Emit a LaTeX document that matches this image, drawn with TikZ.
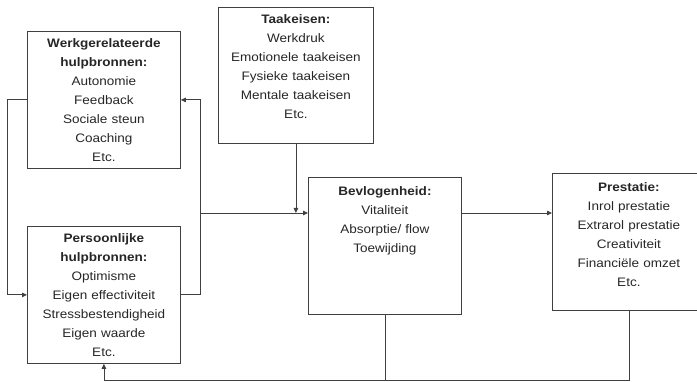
\documentclass[tikz,border=0pt]{standalone}
\usepackage{fontspec}
\setmainfont{Liberation Sans}[FakeStretch=1.1]
\usetikzlibrary{arrows.meta}

\begin{document}
\begin{tikzpicture}[x=1pt, y=-1pt,
    blok/.style={draw=black!75, line width=0.8pt, inner sep=0pt, anchor=north west,
        text width=153pt, align=center, text height=16.5pt, text depth=120.5pt,
        font=\fontsize{12.3}{19}\selectfont, text=black!85},
    pijl/.style={draw=black!75, line width=0.8pt, -{Triangle[length=5pt, width=4.5pt]}},
    lijn/.style={draw=black!75, line width=0.8pt}]
    \useasboundingbox (0,0) rectangle (697,382);

    \node [blok] (werk) at (27,31) {\textbf{Werkgerelateerde\\ hulpbronnen:}\\ Autonomie\\ Feedback\\ Sociale steun\\ Coaching\\ Etc.};
    \node [blok] (pers) at (27,226) {\textbf{Persoonlijke\\ hulpbronnen:}\\ Optimisme\\ Eigen effectiviteit\\ Stressbestendigheid\\ Eigen waarde\\ Etc.};
    \node [blok, text width=155pt, text depth=119.5pt] (taak) at (218,7) {\textbf{Taakeisen:}\\ Werkdruk\\ Emotionele taakeisen\\ Fysieke taakeisen\\ Mentale taakeisen\\ Etc.};
    \node [blok, text height=18.5pt, text depth=118.5pt] (bevl) at (308,177) {\textbf{Bevlogenheid:}\\ Vitaliteit\\ Absorptie/ flow\\ Toewijding};
    \node [blok, text height=18.5pt, text depth=118.5pt] (pres) at (552,173) {\textbf{Prestatie:}\\ Inrol prestatie\\ Extrarol prestatie\\ Creativiteit\\ Financiële omzet\\ Etc.};

    \coordinate (kruis) at (200,213);
    \coordinate (onder) at (0,380.5);

    \draw [pijl] (werk.west) -- ++(-20,0) |- (pers.west);
    \draw [pijl] (pers.east) -- ++(20,0) |- (werk.east);
    \draw [pijl] (kruis) -- (kruis -| bevl.west);
    \draw [pijl] (taak.south) -- (taak.south |- kruis);
    \draw [pijl] (bevl.east |- kruis) -- (pres.west |- kruis);

    \draw [pijl] (pres.south) |- (pers.south |- onder) -- (pers.south);
    \draw [lijn] (bevl.south) -- (bevl.south |- onder);

\end{tikzpicture}
\end{document}
